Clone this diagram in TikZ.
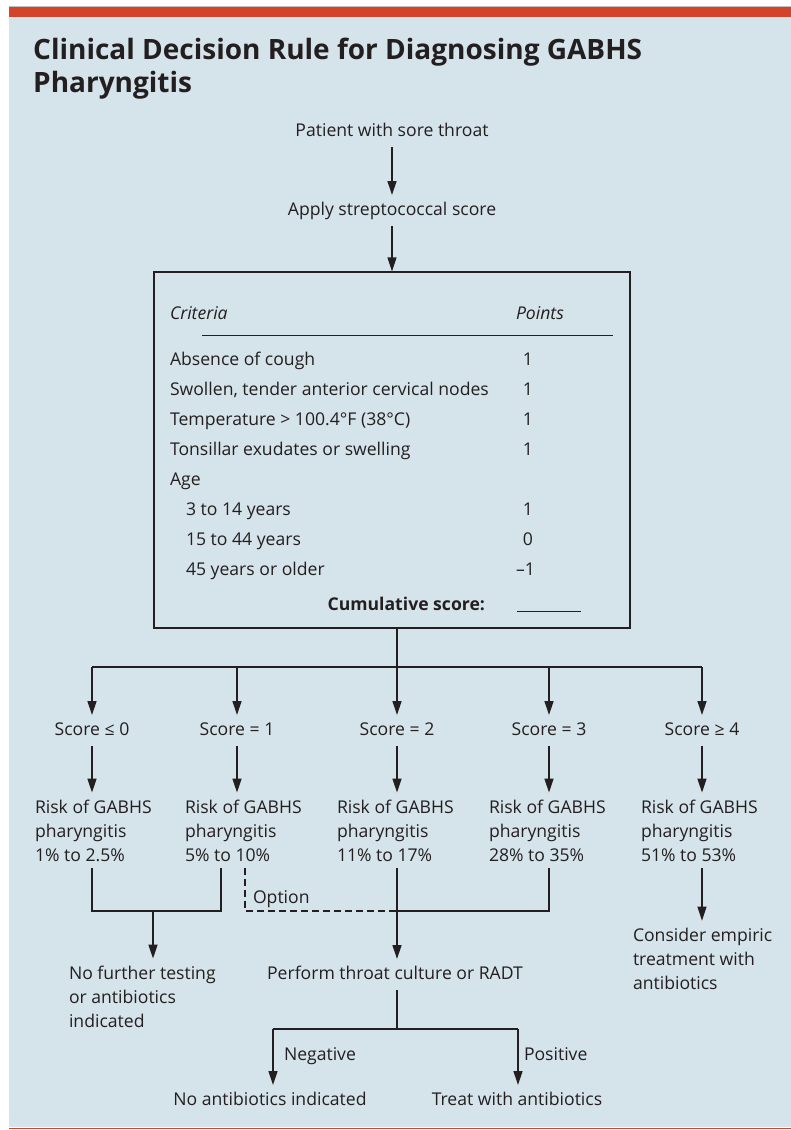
\documentclass[tikz,border=0pt]{standalone}
\usepackage{fontspec}
\setmainfont{Open Sans}
\usetikzlibrary{arrows.meta}
\definecolor{bgblue}{HTML}{D5E3EA}
\definecolor{barred}{HTML}{D2452A}
\definecolor{ink}{HTML}{231F20}
\tikzset{
    txt/.style = {inner sep=0pt, outer xsep=0pt, outer ysep=7pt, text=ink, text height=13pt, text depth=4pt,
        font=\fontsize{17.6}{24}\selectfont},
    multitxt/.style = {inner sep=0pt, outer xsep=0pt, outer ysep=7pt, text=ink, align=left,
        font=\fontsize{17.6}{24}\selectfont},
    arr/.style = {-{Triangle[length=14pt, width=9pt]}},
    link/.style = {draw=ink, line width=1.3pt}
}
\begin{document}
\begin{tikzpicture}[x=1pt, y=-1pt]
        % background and bars
        \useasboundingbox (0,0) rectangle (791,1130);
        \fill[white] (0,0) rectangle (791,1130);
        \fill[bgblue] (9,17) rectangle (791,1127);
        \fill[barred] (9,7) rectangle (791,17);
        \draw[black!25, line width=0.8pt] (9,6.4) -- (791,6.4);
        \draw[barred, line width=1.6pt] (9,1128.6) -- (791,1128.6);

        % base of a node with two lines is the last line
        \node[anchor=base west, inner sep=0pt, align=left, text=ink,
            font=\bfseries\fontsize{28}{33}\selectfont] (title) at (33,92)
            {Clinical Decision Rule for Diagnosing GABHS\\Pharyngitis};

        % top of the flow
        \node[txt, anchor=base] (patient) at (392,136) {Patient with sore throat};
        \node[txt, anchor=base] (apply) at (392,215) {Apply streptococcal score};
        \node[draw=ink, line width=1.3pt, minimum width=476pt, minimum height=356pt,
            inner sep=0pt] (scorebox) at (392,450) {};
        \draw[link, arr] (patient) -- (apply);
        \draw[link, arr] (apply) -- (scorebox);

        % score table
        \node[txt, anchor=base west, font=\fontsize{17.6}{24}\selectfont\itshape] (critHead) at (170,319) {Criteria};
        \node[txt, anchor=base west, font=\fontsize{17.6}{24}\selectfont\itshape] (ptsHead) at (516,319) {Points};
        \draw[ink, line width=0.9pt] (202,335) -- (613,335);
        \node[txt, anchor=base west] (critA) at (170,365) {Absence of cough};
        \node[txt, anchor=base west] (critB) at (170,395) {Swollen, tender anterior cervical nodes};
        \node[txt, anchor=base west] (critC) at (170,425) {Temperature > 100.4°F (38°C)};
        \node[txt, anchor=base west] (critD) at (170,455) {Tonsillar exudates or swelling};
        \node[txt, anchor=base west] (critE) at (170,485) {Age};
        \node[txt, anchor=base west] (ageA) at (186,515) {3 to 14 years};
        \node[txt, anchor=base west] (ageB) at (186,545) {15 to 44 years};
        \node[txt, anchor=base west] (ageC) at (186,575) {45 years or older};
        \node[txt, anchor=base] (ptsA) at (528,365) {1};
        \node[txt, anchor=base] (ptsB) at (528,395) {1};
        \node[txt, anchor=base] (ptsC) at (528,425) {1};
        \node[txt, anchor=base] (ptsD) at (528,455) {1};
        \node[txt, anchor=base] (ptsE) at (528,515) {1};
        \node[txt, anchor=base] (ptsF) at (528,545) {0};
        \node[txt, anchor=base east] (ptsG) at (535,575) {–1};
        \node[txt, anchor=base east, font=\fontsize{17.6}{24}\selectfont\bfseries] (cumul) at (485,610) {Cumulative score:};
        \draw[ink, line width=0.9pt] (517,611.5) -- (581,611.5);

        % five branches
        \coordinate (boxout) at ([xshift=5pt]scorebox.south);
        \coordinate (split) at (397,667);
        \node[txt, anchor=base] (scoreA) at (92,735) {Score ≤ 0};
        \node[txt, anchor=base] (scoreB) at (237,735) {Score = 1};
        \node[txt, anchor=base] (scoreC) at (397,735) {Score = 2};
        \node[txt, anchor=base] (scoreD) at (549,735) {Score = 3};
        \node[txt, anchor=base] (scoreE) at (702,735) {Score ≥ 4};
        \draw[link] (boxout) -- (split);
        \draw[link] (scoreA |- split) -- (scoreE |- split);
        \draw[link, arr] (scoreA |- split) -- (scoreA);
        \draw[link, arr] (scoreB |- split) -- (scoreB);
        \draw[link, arr] (scoreC |- split) -- (scoreC);
        \draw[link, arr] (scoreD |- split) -- (scoreD);
        \draw[link, arr] (scoreE |- split) -- (scoreE);

        \node[multitxt, anchor=base west] (riskA) at (35,861) {Risk of GABHS\\pharyngitis\\1\% to 2.5\%};
        \node[multitxt, anchor=base west] (riskB) at (185,861) {Risk of GABHS\\pharyngitis\\5\% to 10\%};
        \node[multitxt, anchor=base west] (riskC) at (337,861) {Risk of GABHS\\pharyngitis\\11\% to 17\%};
        \node[multitxt, anchor=base west] (riskD) at (489,861) {Risk of GABHS\\pharyngitis\\28\% to 35\%};
        \node[multitxt, anchor=base west] (riskE) at (641,861) {Risk of GABHS\\pharyngitis\\51\% to 53\%};
        \draw[link, arr] (scoreA) -- (scoreA |- riskA.north);
        \draw[link, arr] (scoreB) -- (scoreB |- riskB.north);
        \draw[link, arr] (scoreC) -- (scoreC |- riskC.north);
        \draw[link, arr] (scoreD) -- (scoreD |- riskD.north);
        \draw[link, arr] (scoreE) -- (scoreE |- riskE.north);

        % outcomes
        \node[multitxt, anchor=base west] (noTest) at (69,1027) {No further testing\\or antibiotics\\indicated};
        \node[txt, anchor=base] (perform) at (395,979) {Perform throat culture or RADT};
        \node[multitxt, anchor=base west] (empiric) at (633,989) {Consider empiric\\treatment with\\antibiotics};
        \node[txt, anchor=base west] (option) at (253,903) {Option};
        \coordinate (lowLeft) at (92,911);
        \coordinate (lowRight) at (221,911);
        \coordinate (lowMid) at (153,911);
        \coordinate (optLeft) at (245,911);
        \coordinate (cultMid) at (397,911);
        \coordinate (cultRight) at (549,911);
        \draw[link] (lowLeft |- riskA.south) -- (lowLeft) -- (lowRight) -- (lowRight |- riskB.south);
        \draw[link, arr] (lowMid) -- (lowMid |- noTest.north);
        \draw[link, dash pattern=on 7pt off 4pt] (optLeft |- riskB.south) -- (optLeft) -- (cultMid);
        \draw[link] (cultMid) -- (cultRight) -- (cultRight |- riskD.south);
        \draw[link, arr] (scoreC |- riskC.south) -- (scoreC |- perform.north);
        \draw[link, arr] (scoreE |- riskE.south) -- (scoreE |- empiric.north);

        % test result
        \coordinate (testSplit) at (397,1029);
        \coordinate (negTurn) at (273,1029);
        \coordinate (posTurn) at (518,1029);
        \node[txt, anchor=base] (noAnti) at (270,1105) {No antibiotics indicated};
        \node[txt, anchor=base] (treat) at (517,1105) {Treat with antibiotics};
        \node[txt, anchor=base west] (negative) at (284,1060) {Negative};
        \node[txt, anchor=base west] (positive) at (524,1060) {Positive};
        \draw[link] (perform.south -| testSplit) -- (testSplit);
        \draw[link] (negTurn) -- (posTurn);
        \draw[link, arr] (negTurn) -- (negTurn |- noAnti.north);
        \draw[link, arr] (posTurn) -- (posTurn |- treat.north);
    \end{tikzpicture}
\end{document}
